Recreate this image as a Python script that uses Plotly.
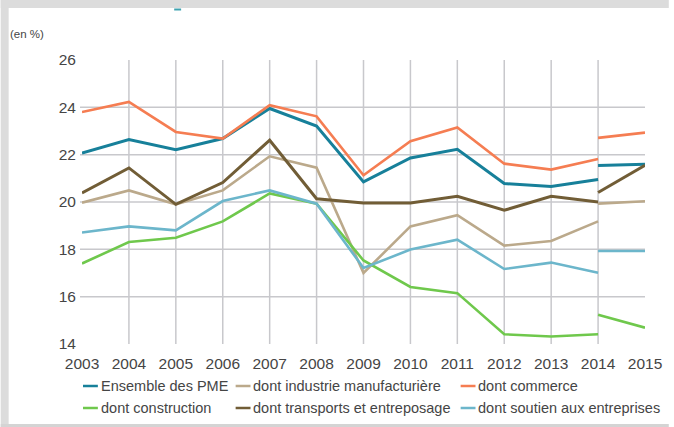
import plotly.graph_objects as go

# ---------------- data ----------------
years = [2003, 2004, 2005, 2006, 2007, 2008, 2009, 2010, 2011, 2012, 2013, 2014]
years_new = [2014, 2015]
xtick_labels = ["2003", "2004", "2005", "2006", "2007", "2008", "2009",
                "2010", "2011", "2012", "2013", "2014", "2015"]
ytick_vals = [14, 16, 18, 20, 22, 24, 26]

pme = [22.07, 22.64, 22.21, 22.68, 23.95, 23.21, 20.85, 21.86, 22.23, 20.78, 20.66, 20.95]
pme_new = [21.54, 21.60]
industrie = [19.97, 20.49, 19.90, 20.49, 21.93, 21.45, 17.00, 18.97, 19.44, 18.16, 18.35, 19.18]
industrie_new = [19.93, 20.03]
commerce = [23.80, 24.23, 22.96, 22.68, 24.09, 23.62, 21.13, 22.57, 23.15, 21.62, 21.37, 21.82]
commerce_new = [22.71, 22.93]
construction = [17.40, 18.31, 18.49, 19.18, 20.36, 19.93, 17.53, 16.41, 16.15, 14.41, 14.32, 14.41]
construction_new = [15.24, 14.69]
transports = [20.38, 21.44, 19.90, 20.82, 22.61, 20.14, 19.96, 19.96, 20.24, 19.65, 20.24, 20.00]
transports_new = [20.40, 21.55]
soutien = [18.71, 18.97, 18.80, 20.04, 20.49, 19.93, 17.21, 17.99, 18.41, 17.17, 17.44, 17.01]
soutien_new = [17.93, 17.93]

series = [
    ("Ensemble des PME", pme, pme_new, "#17809a", 3.0),
    ("dont industrie manufacturière", industrie, industrie_new, "#bba98b", 2.6),
    ("dont commerce", commerce, commerce_new, "#f57d52", 2.6),
    ("dont construction", construction, construction_new, "#6fc84c", 2.6),
    ("dont transports et entreposage", transports, transports_new, "#715d36", 3.0),
    ("dont soutien aux entreprises", soutien, soutien_new, "#6cb6cb", 2.6),
]

# ---------------- geometry helpers (pixels -> paper) ----------------
W, H = 674, 427
L, R, T, B = 82, 24, 60, 83
PW, PH = W - L - R, H - T - B


def px(x):
    return (x - L) / PW


def py(y):
    return (H - B - y) / PH


FONT = "Liberation Sans, Arial, sans-serif"
TXT = "#454545"
GRID = "#c8c8cc"

fig = go.Figure()

for name, old, new, color, w in series:
    fig.add_trace(go.Scatter(x=years, y=old, mode="lines", name=name,
                             line=dict(color=color, width=w), showlegend=False,
                             hoverinfo="skip"))
    fig.add_trace(go.Scatter(x=years_new, y=new, mode="lines", name=name,
                             line=dict(color=color, width=w), showlegend=False,
                             hoverinfo="skip"))

shapes = []
# frame: grey band top / left, grey line bottom
shapes.append(dict(type="rect", xref="paper", yref="paper", x0=px(0), x1=px(W), y0=py(0), y1=py(8),
                   fillcolor="#dcdcdc", line=dict(width=0), layer="below"))
shapes.append(dict(type="rect", xref="paper", yref="paper", x0=px(0), x1=px(8), y0=py(0), y1=py(H),
                   fillcolor="#dcdcdc", line=dict(width=0), layer="below"))
shapes.append(dict(type="rect", xref="paper", yref="paper", x0=px(0), x1=px(W), y0=py(424), y1=py(H),
                   fillcolor="#d4d4d4", line=dict(width=0), layer="below"))
# fragment of cut title
shapes.append(dict(type="line", xref="paper", yref="paper", x0=px(175), x1=px(182), y0=py(9.5), y1=py(9.5),
                   line=dict(color="#3fa3b0", width=2)))

# grid lines
for v in ytick_vals[1:-1]:
    shapes.append(dict(type="line", xref="paper", yref="y", x0=px(80), x1=1, y0=v, y1=v,
                       line=dict(color=GRID, width=1.5), layer="below"))
for yr in years[1:]:
    shapes.append(dict(type="line", xref="x", yref="paper", x0=yr, x1=yr, y0=0, y1=1,
                       line=dict(color=GRID, width=1.5), layer="below"))

# manual legend
annotations = []
leg_pos = [(83, 386), (237, 386), (464, 386), (83, 408), (237, 408), (464, 408)]
for (name, old, new, color, w), (lx, ly) in zip(series, leg_pos):
    shapes.append(dict(type="line", xref="paper", yref="paper", x0=px(lx), x1=px(lx + 15),
                       y0=py(ly), y1=py(ly), line=dict(color=color, width=2.5)))
    annotations.append(dict(xref="paper", yref="paper", x=px(lx + 16), y=py(ly), text=name,
                            showarrow=False, xanchor="left", yanchor="middle",
                            font=dict(family=FONT, size=14.5, color=TXT)))

annotations.append(dict(xref="paper", yref="paper", x=px(7), y=py(34), text="(en %)",
                        showarrow=False, xanchor="left", yanchor="middle",
                        font=dict(family=FONT, size=11.5, color=TXT)))

fig.update_layout(
    width=W, height=H,
    margin=dict(l=L, r=R, t=T, b=B, pad=0),
    paper_bgcolor="white", plot_bgcolor="rgba(0,0,0,0)",
    showlegend=False,
    shapes=shapes, annotations=annotations,
    font=dict(family=FONT, size=15.5, color=TXT),
    xaxis=dict(range=[2003, 2015], tickvals=years + [2015], ticktext=xtick_labels,
               showgrid=False, zeroline=False, showline=False, ticks="",
               ticklabelstandoff=8, tickfont=dict(family=FONT, size=15.5, color=TXT)),
    yaxis=dict(range=[14, 26], tickvals=ytick_vals, showgrid=False, zeroline=False,
               showline=False, ticks="", ticklabelstandoff=5,
               tickfont=dict(family=FONT, size=15.5, color=TXT)),
)

fig.write_html("out.html", config={"displayModeBar": False},
               post_script="document.body.style.margin='0px';document.body.style.overflow='hidden';")
